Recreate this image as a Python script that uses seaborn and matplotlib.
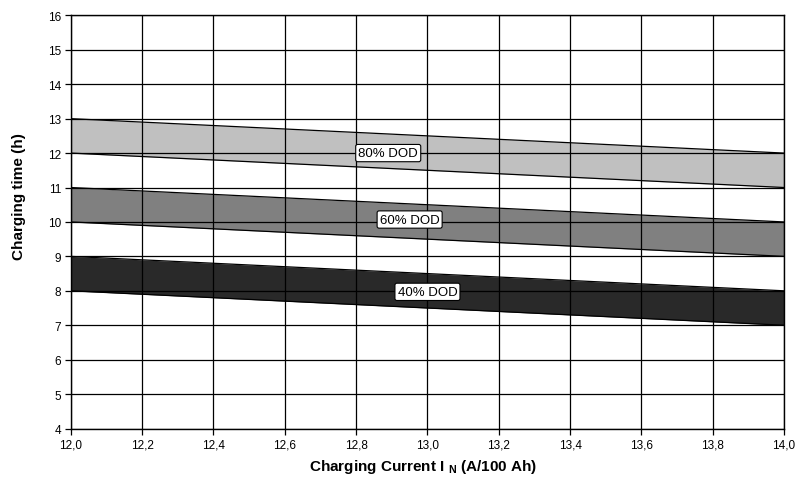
import matplotlib
matplotlib.use("Agg")
import matplotlib.pyplot as plt
import seaborn as sns
import pandas as pd
import numpy as np

# Data
current = [12.0, 14.0]
band_labels = ["80% DOD", "60% DOD", "40% DOD"]
upper_80 = [13.0, 12.0]
lower_80 = [12.0, 11.0]
upper_60 = [11.0, 10.0]
lower_60 = [10.0, 9.0]
upper_40 = [9.0, 8.0]
lower_40 = [8.0, 7.0]
band_colors = ["#c0c0c0", "#808080", "#292929"]
label_pos = [(12.89, 12.0), (12.95, 10.07), (13.0, 7.97)]
x_ticks = [12.0, 12.2, 12.4, 12.6, 12.8, 13.0, 13.2, 13.4, 13.6, 13.8, 14.0]
y_ticks = list(range(4, 17))

sns.set_style("white")
plt.rcParams['font.family'] = ['Liberation Sans', 'DejaVu Sans']
plt.rcParams['mathtext.default'] = 'regular'
plt.rcParams['text.color'] = 'black'
plt.rcParams['axes.labelcolor'] = 'black'
plt.rcParams['xtick.color'] = 'black'
plt.rcParams['ytick.color'] = 'black'

fig = plt.figure(figsize=(8.05, 4.81), dpi=100)
ax = fig.add_axes([0.088, 0.107, 0.886, 0.859])

uppers = [upper_80, upper_60, upper_40]
lowers = [lower_80, lower_60, lower_40]

rows = []
for lab, up, lo in zip(band_labels, uppers, lowers):
    for x, u, l in zip(current, up, lo):
        rows.append({"band": lab, "x": x, "upper": u, "lower": l})
df = pd.DataFrame(rows)

for lab, col in zip(band_labels, band_colors):
    d = df[df.band == lab]
    ax.fill_between(d.x, d.lower, d.upper, color=col, zorder=2, linewidth=0)
    sns.lineplot(data=d, x="x", y="upper", color="black", linewidth=0.9, ax=ax, zorder=3)
    sns.lineplot(data=d, x="x", y="lower", color="black", linewidth=0.9, ax=ax, zorder=3)

for lab, (lx, ly) in zip(band_labels, label_pos):
    ax.text(lx, ly, lab, ha="center", va="center", fontsize=9.5, zorder=5, color="black",
            bbox=dict(boxstyle="round,pad=0.2,rounding_size=0.15", fc="white", ec="black", lw=0.8))

ax.set_xlim(12.0, 14.0)
ax.set_ylim(4, 16)
ax.set_xticks(x_ticks)
ax.set_xticklabels([f"{v:.1f}".replace(".", ",") for v in x_ticks], fontsize=8.5)
ax.set_yticks(y_ticks)
ax.set_yticklabels([str(v) for v in y_ticks], fontsize=8.5)
ax.grid(True, color="black", linewidth=0.9, zorder=4)
ax.set_axisbelow(False)
for s in ax.spines.values():
    s.set_color("black")
    s.set_linewidth(1.0)
    s.set_zorder(6)
ax.tick_params(axis="both", direction="out", length=4, width=0.9, color="black",
               labelcolor="black", pad=3, bottom=True, left=True)
ax.set_xlabel(r"Charging Current I $_{N}$ (A/100 Ah)", fontsize=11, fontweight="bold", color="black")
ax.set_ylabel("Charging time (h)", fontsize=11, fontweight="bold", color="black")
ax.xaxis.set_label_coords(0.494, -0.069)
ax.yaxis.set_label_coords(-0.072, 0.563)
ax.yaxis.label.set_va("center")

fig.savefig("out.png", dpi=100)
